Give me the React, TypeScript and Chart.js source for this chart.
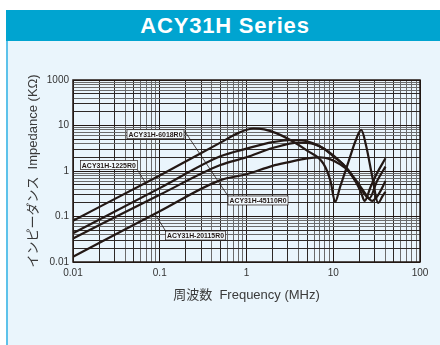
import { useEffect, useRef } from "react";
import { Chart, registerables } from "chart.js";

Chart.register(...registerables);

// ---- data ----
const seriesNames = ["ACY31H-1225R0", "ACY31H-6018R0", "ACY31H-45110R0", "ACY31H-20115R0"];

const freqA = [0.01, 0.1, 0.5, 0.8, 1.2, 1.6, 2.2, 3.2, 5, 7.7, 9.3, 10.5, 12, 15, 18, 21, 24, 28, 33, 37, 40];
const impA = [0.081, 0.8, 4.2, 6.8, 8.6, 8.2, 6.8, 4.8, 2.8, 1.45, 0.6, 0.21, 0.45, 1.6, 4.5, 8, 3.5, 0.8, 0.2, 0.28, 0.35];

const freqB = [0.01, 0.1, 0.5, 1, 2, 3.5, 5, 7, 10, 13, 15, 18, 21, 23, 27, 32, 40];
const impB = [0.043, 0.42, 2.1, 3.1, 4.3, 4.8, 4.5, 3.5, 2.2, 1.4, 1.05, 0.6, 0.33, 0.22, 0.45, 0.9, 1.9];

const freqC = [0.01, 0.1, 0.5, 1, 2, 4, 6, 8, 10, 13, 15, 18, 22, 26, 32, 40];
const impC = [0.033, 0.3, 1.35, 2.0, 3.2, 4.2, 3.9, 3.0, 2.1, 1.4, 1.0, 0.6, 0.35, 0.25, 0.6, 1.25];

const freqD = [0.01, 0.1, 0.5, 1, 2, 3, 5, 7, 9, 12, 15, 18, 22, 28, 33, 40];
const impD = [0.0131, 0.13, 0.63, 0.85, 1.3, 1.55, 1.9, 2.0, 1.85, 1.4, 1.0, 0.65, 0.38, 0.22, 0.3, 0.6];

const xTickValues = [0.01, 0.1, 1, 10, 100];
const xTickLabels = ["0.01", "0.1", "1", "10", "100"];
const yTickValues = [0.01, 0.1, 1, 10, 100];
const yTickLabels = ["0.01", "0.1", "1", "10", "1000"];

// label annotations (data coordinates)
const labelTexts = ["ACY31H-6018R0", "ACY31H-1225R0", "ACY31H-45110R0", "ACY31H-20115R0"];
const labelFreq = [0.0893, 0.0259, 1.357, 0.258];
const labelImp = [6.44, 1.355, 0.225, 0.0382];
const leaderFromFreq = [0.195, 0.054, null, 0.1197];
const leaderFromImp = [7.38, 1.135, null, 0.0445];
const leaderToFreq = [0.612, 0.0676, null, 0.0881];
const leaderToImp = [0.282, 0.573, null, 0.1135];

const INK = "#231815";
const FONT = "'Liberation Sans', Arial, 'Noto Sans CJK JP', sans-serif";

function buildLogTicks(min: number, max: number) {
  const t: { value: number }[] = [];
  const e0 = Math.round(Math.log10(min));
  const e1 = Math.round(Math.log10(max));
  for (let e = e0; e < e1; e++) {
    for (let s = 1; s <= 9; s++) t.push({ value: Number((s * Math.pow(10, e)).toPrecision(3)) });
  }
  t.push({ value: max });
  return t;
}

function labelFor(values: number[], labels: string[], v: number) {
  const i = values.findIndex((x) => Math.abs(x - v) / x < 1e-6);
  return i >= 0 ? labels[i] : "";
}

function gridColor(ctx: any) {
  const v = ctx.tick ? ctx.tick.value : 1;
  const s = Math.round(v / Math.pow(10, Math.floor(Math.log10(v) + 1e-9)));
  if (s === 1) return INK;
  if (s === 2 || s === 3 || s === 5) return "#2e2826";
  return "#6b6b6b";
}

const annotationPlugin = {
  id: "labels",
  afterDatasetsDraw(chart: any) {
    const { ctx, scales, chartArea } = chart;
    const xs = scales.x;
    const ys = scales.y;
    ctx.save();
    // leaders
    ctx.strokeStyle = INK;
    ctx.lineWidth = 0.8;
    for (let i = 0; i < labelTexts.length; i++) {
      const ff = leaderFromFreq[i];
      if (ff == null) continue;
      ctx.beginPath();
      ctx.moveTo(xs.getPixelForValue(ff), ys.getPixelForValue(leaderFromImp[i] as number));
      ctx.lineTo(xs.getPixelForValue(leaderToFreq[i] as number), ys.getPixelForValue(leaderToImp[i] as number));
      ctx.stroke();
    }
    // boxes
    for (let i = 0; i < labelTexts.length; i++) {
      const cx = xs.getPixelForValue(labelFreq[i]);
      const cy = ys.getPixelForValue(labelImp[i]);
      const w = labelTexts[i].length > 13 ? 60 : 57;
      const h = 9;
      ctx.fillStyle = "#F1F8FC";
      ctx.fillRect(cx - w / 2, cy - h / 2, w, h);
      ctx.strokeStyle = INK;
      ctx.lineWidth = 0.7;
      ctx.strokeRect(cx - w / 2, cy - h / 2, w, h);
      ctx.fillStyle = INK;
      ctx.font = "bold 8px " + FONT;
      ctx.textAlign = "center";
      ctx.textBaseline = "middle";
      ctx.fillText(labelTexts[i], cx, cy + 0.5, w - 3);
    }
    // frame
    ctx.strokeStyle = INK;
    ctx.lineWidth = 1.5;
    ctx.strokeRect(chartArea.left, chartArea.top, chartArea.right - chartArea.left, chartArea.bottom - chartArea.top);
    ctx.restore();
  },
};

function ImpedanceChart() {
  const ref = useRef<HTMLCanvasElement>(null);
  useEffect(() => {
    if (!ref.current) return;
    const mk = (f: number[], z: number[]) => f.map((x, i) => ({ x, y: z[i] }));
    const series = [
      mk(freqA, impA),
      mk(freqB, impB),
      mk(freqC, impC),
      mk(freqD, impD),
    ];
    const chart = new Chart(ref.current, {
      type: "line",
      data: {
        datasets: series.map((d, i) => ({
          label: seriesNames[i],
          data: d,
          borderColor: INK,
          borderWidth: 2.2,
          pointRadius: 0,
          cubicInterpolationMode: "monotone" as const,
          fill: false,
        })),
      },
      options: {
        responsive: false,
        animation: false,
        events: [],
        layout: { padding: { left: 0, right: 20, top: 80, bottom: 33 } },
        plugins: { legend: { display: false }, tooltip: { enabled: false } },
        scales: {
          x: {
            type: "logarithmic",
            min: 0.01,
            max: 100,
            afterBuildTicks: (s: any) => { s.ticks = buildLogTicks(0.01, 100); },
            afterFit: (s: any) => { s.height = 50; },
            grid: { color: gridColor, lineWidth: 1, drawTicks: false },
            border: { display: false },
            ticks: {
              autoSkip: false,
              maxRotation: 0,
              padding: 5,
              color: "#333",
              font: { family: FONT, size: 10 },
              callback: (v: any) => labelFor(xTickValues, xTickLabels, Number(v)),
            },
            title: {
              display: true,
              text: "周波数  Frequency (MHz)",
              color: "#3a3a3a",
              font: { family: FONT, size: 13 },
              padding: { top: 0, bottom: 8.5 },
            },
          },
          y: {
            type: "logarithmic",
            min: 0.01,
            max: 100,
            afterBuildTicks: (s: any) => { s.ticks = buildLogTicks(0.01, 100); },
            afterFit: (s: any) => { s.width = 73; },
            grid: { color: gridColor, lineWidth: 1, drawTicks: false },
            border: { display: false },
            ticks: {
              autoSkip: false,
              padding: 4,
              color: "#333",
              font: { family: FONT, size: 10 },
              callback: (v: any) => labelFor(yTickValues, yTickLabels, Number(v)),
            },
            title: {
              display: true,
              text: "インピーダンス  Impedance (KΩ)",
              color: "#3a3a3a",
              font: { family: FONT, size: 13 },
              padding: { top: 26, bottom: 0 },
            },
          },
        },
      },
      plugins: [annotationPlugin],
    });
    return () => chart.destroy();
  }, []);
  return (
    <canvas
      ref={ref}
      width={440}
      height={345}
      style={{ position: "absolute", left: 0, top: 0, width: 440, height: 345 }}
    />
  );
}

export default function App() {
  return (
    <div style={{ position: "absolute", left: 0, top: 0, width: 440, height: 345, background: "#ffffff", overflow: "hidden" }}>
      <div
        style={{
          position: "absolute",
          left: 6,
          top: 10,
          width: 434,
          height: 31,
          background: "#00A4D0",
          color: "#ffffff",
          fontFamily: FONT,
          fontWeight: "bold",
          fontSize: 22,
          letterSpacing: 0.8,
          lineHeight: "31px",
          textAlign: "center",
          paddingLeft: 4,
          boxSizing: "border-box",
        }}
      >
        ACY31H Series
      </div>
      <div
        style={{
          position: "absolute",
          left: 6,
          top: 41,
          width: 434,
          height: 304,
          background: "#EAF5FC",
          borderLeft: "2px solid #5DC2EA",
          boxSizing: "border-box",
        }}
      />
      <ImpedanceChart />
    </div>
  );
}
